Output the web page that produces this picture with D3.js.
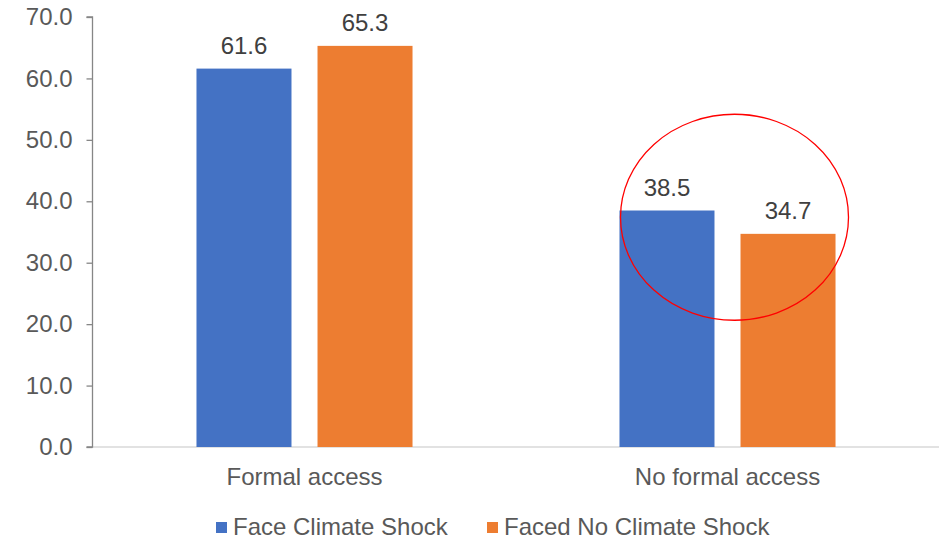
<!DOCTYPE html>
<html>
<head>
<meta charset="utf-8">
<script src="https://cdn.jsdelivr.net/npm/d3@7"></script>
<style>
  html, body { margin: 0; padding: 0; background: #fff; }
  svg { display: block; font-family: "Liberation Sans", Arial, sans-serif; }
</style>
</head>
<body>
<svg id="chart" width="942" height="540"></svg>
<script>
// Access categories and the two series plotted for each
const categories = ["Formal access", "No formal access"];
const seriesNames = ["Face Climate Shock", "Faced No Climate Shock"];
const faceClimateShock = [61.6, 38.5];
const facedNoClimateShock = [65.3, 34.7];
const yTicks = [0, 10, 20, 30, 40, 50, 60, 70];
const colors = ["#4472C4", "#ED7D31"];

const rows = categories.map((c, i) => ({
  category: c,
  values: [faceClimateShock[i], facedNoClimateShock[i]]
}));

const svg = d3.select("#chart");
const plot = { left: 93, right: 939, top: 17, bottom: 447 };
const fontSize = "24px";

const x0 = d3.scaleBand().domain(categories).range([plot.left, plot.right]).padding(0);
const x1 = d3.scaleBand().domain(d3.range(seriesNames.length))
  .range([0, x0.bandwidth()]).paddingInner(0.215).paddingOuter(0.855);
const y = d3.scaleLinear().domain([0, 70]).range([plot.bottom, plot.top]);

// Horizontal baseline
svg.append("line")
  .attr("x1", plot.left).attr("x2", plot.right)
  .attr("y1", y(0)).attr("y2", y(0))
  .attr("stroke", "#d9d9d9").attr("stroke-width", 1.3);

// Y axis
const yAxis = d3.axisLeft(y).tickValues(yTicks).tickFormat(d3.format(".1f"))
  .tickSize(6).tickPadding(14);
const gy = svg.append("g").attr("transform", `translate(${plot.left - 0.5},0)`).call(yAxis);
gy.select(".domain").attr("stroke", "#868686").attr("stroke-width", 1.3).attr("d", `M-6,${y(70)}H0V${y(0)}H-6`);
gy.selectAll(".tick line").attr("stroke", "#868686").attr("stroke-width", 1.3);
gy.selectAll(".tick text").attr("fill", "#595959").style("font-size", fontSize)
  .style("font-family", "'Liberation Sans', Arial, sans-serif");

// Bars
const groups = svg.append("g").selectAll("g").data(rows).join("g")
  .attr("transform", d => `translate(${x0(d.category)},0)`);

groups.selectAll("rect").data(d => d.values.map((v, i) => ({ v, i }))).join("rect")
  .attr("x", d => x1(d.i))
  .attr("width", x1.bandwidth())
  .attr("y", d => y(d.v))
  .attr("height", d => y(0) - y(d.v))
  .attr("fill", d => colors[d.i]);

// Value labels
groups.selectAll("text.val").data(d => d.values.map((v, i) => ({ v, i }))).join("text")
  .attr("class", "val")
  .attr("x", d => x1(d.i) + x1.bandwidth() / 2)
  .attr("y", d => y(d.v) - 15)
  .attr("text-anchor", "middle")
  .attr("fill", "#404040")
  .style("font-size", fontSize)
  .text(d => d3.format(".1f")(d.v));

// Category labels
svg.append("g").selectAll("text").data(categories).join("text")
  .attr("x", d => x0(d) + x0.bandwidth() / 2)
  .attr("y", 485)
  .attr("text-anchor", "middle")
  .attr("fill", "#595959")
  .style("font-size", fontSize)
  .text(d => d);

// Highlight ellipse around the no-formal-access pair
const hiCat = categories[1];
svg.append("ellipse")
  .attr("cx", x0(hiCat) + x0.bandwidth() / 2 + 7)
  .attr("cy", y(37.4))
  .attr("rx", 114)
  .attr("ry", 103)
  .attr("fill", "none")
  .attr("stroke", "#FF0000")
  .attr("stroke-width", 1.3);

// Legend
const legendX = [216, 487];
const legend = svg.append("g").selectAll("g").data(seriesNames).join("g")
  .attr("transform", (d, i) => `translate(${legendX[i]},522)`);
legend.append("rect").attr("width", 11).attr("height", 11).attr("fill", (d, i) => colors[i]);
legend.append("text").attr("x", 17).attr("y", 12.5)
  .attr("fill", "#595959").style("font-size", fontSize).text(d => d);
</script>
</body>
</html>
